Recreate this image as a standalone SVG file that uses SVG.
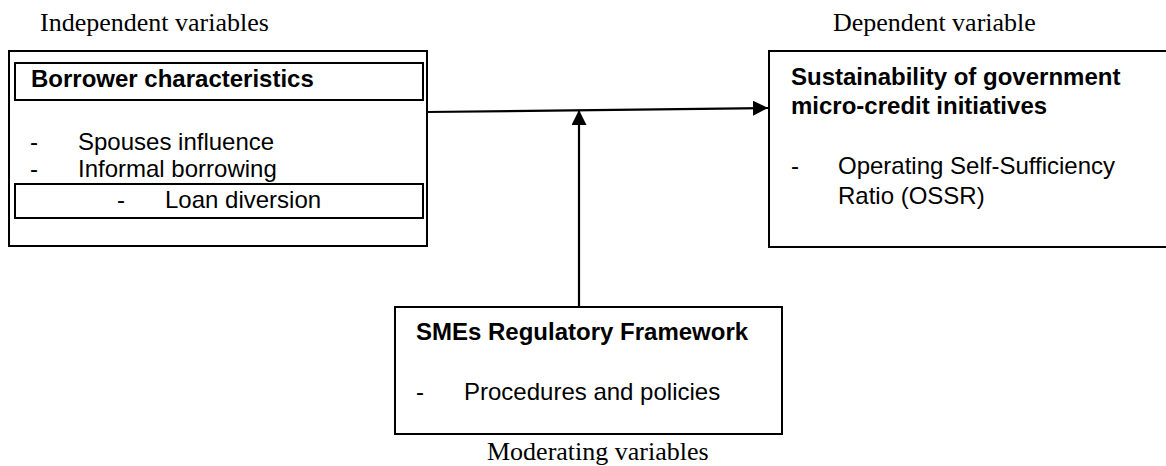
<svg xmlns="http://www.w3.org/2000/svg" width="1166" height="466" viewBox="0 0 1166 466">
<style>
.box{fill:#fff;stroke:#000;stroke-width:2}
.b{font-family:"Liberation Sans",Arial,sans-serif;font-size:24px;font-weight:bold;fill:#000}
.r{font-family:"Liberation Sans",Arial,sans-serif;font-size:24px;fill:#000}
.cap{font-family:"Liberation Serif","Times New Roman",serif;font-size:26px;fill:#000}
.conn{fill:none;stroke:#000;stroke-width:2.2}
</style>
<defs>
<marker id="arr" markerUnits="userSpaceOnUse" markerWidth="16" markerHeight="16" refX="15" refY="7.5" orient="auto">
<path d="M0,0 L15,7.5 L0,15 Z" fill="#000"/>
</marker>
</defs>
<rect width="1166" height="466" fill="#fff"/>
<text class="cap" x="40" y="31">Independent variables</text>
<text class="cap" x="833" y="31">Dependent variable</text>
<text class="cap" x="487" y="460">Moderating variables</text>
<g id="connectors">
<path class="conn" d="M427,112 L768,108" marker-end="url(#arr)"/>
<path class="conn" d="M579,307 L579,110" marker-end="url(#arr)"/>
</g>
<g id="borrower">
<rect class="box" x="9" y="51" width="418" height="195"/>
<rect class="box" x="15" y="63" width="408" height="37"/>
<text class="b" x="31" y="87">Borrower characteristics</text>
<text class="r" x="30" y="150">-</text>
<text class="r" x="78" y="150">Spouses influence</text>
<text class="r" x="30" y="177">-</text>
<text class="r" x="78" y="177">Informal borrowing</text>
<rect class="box" x="15" y="184" width="408" height="34"/>
<text class="r" x="117" y="208">-</text>
<text class="r" x="165" y="208">Loan diversion</text>
</g>
<g id="sustainability">
<rect class="box" x="769" y="51" width="400" height="196"/>
<text class="b" x="791" y="85">Sustainability of government</text>
<text class="b" x="791" y="114">micro-credit initiatives</text>
<text class="r" x="791" y="174">-</text>
<text class="r" x="838" y="174">Operating Self-Sufficiency</text>
<text class="r" x="838" y="204">Ratio (OSSR)</text>
</g>
<g id="regulatory">
<rect class="box" x="395" y="307" width="387" height="127"/>
<text class="b" x="416" y="340">SMEs Regulatory Framework</text>
<text class="r" x="416" y="400">-</text>
<text class="r" x="464" y="400">Procedures and policies</text>
</g>
</svg>
